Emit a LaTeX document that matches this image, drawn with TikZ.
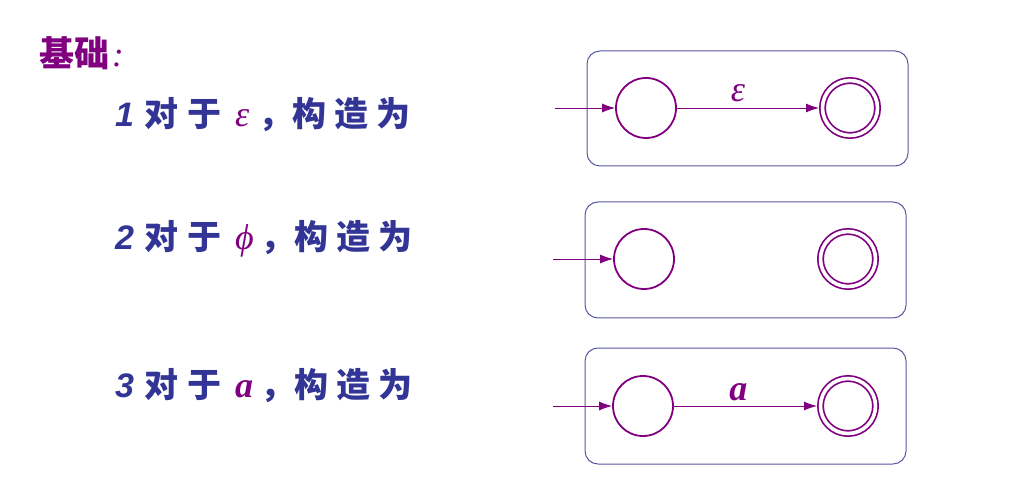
\documentclass[tikz,border=0pt]{standalone}
\usepackage{fontspec}
\setmainfont{Liberation Serif}
\setsansfont{Liberation Sans}
\newfontfamily\cjk{Noto Sans CJK SC}
\usetikzlibrary{arrows.meta}
\definecolor{tblue}{RGB}{50,52,150}
\definecolor{tpurp}{RGB}{128,0,128}
\definecolor{boxc}{RGB}{88,88,160}
\newcommand{\dg}[1]{{\sffamily\bfseries\itshape\fontsize{34}{34}\selectfont #1}}
\newcommand{\ch}[1]{{\cjk\bfseries #1}}
\newcommand{\gk}[1]{{\color{tpurp}#1}}
\begin{document}
\begin{tikzpicture}[x=1pt,y=-1pt,
  frame/.style={draw=boxc, line width=1pt, rounded corners=13pt},
  state/.style={circle, draw=tpurp, line width=1.8pt, minimum size=60pt, inner sep=0pt},
  accept/.style={circle, draw=tpurp, line width=1.7pt, double=white, double distance=3.6pt, minimum size=55pt, inner sep=0pt, outer sep=3.5pt},
  edge/.style={draw=tpurp, line width=0.9pt, -{Latex[length=13pt,width=9pt]}},
  line/.style={anchor=base west, text=tblue, inner sep=0pt, font=\fontsize{34}{34}\selectfont},
  elab/.style={text=tpurp, inner sep=0pt}]
\useasboundingbox (0,0) rectangle (1022,502);
\fill[white] (0,0) rectangle (1022,502);

% left texts
\node[anchor=base west, text=tpurp, inner sep=0pt, font=\fontsize{35}{35}\selectfont] (title) at (39,67) {\ch{基础}\hspace{3pt}\textit{:}};
\node[line] (t1) at (115,127) {\dg{1}\hspace{10pt}\ch{对}\hspace{9pt}\ch{于}\hspace{14pt}\gk{\fontsize{36}{36}\selectfont\textit{ε}}\hspace{9pt}\ch{，}\ch{构}\hspace{8pt}\ch{造}\hspace{8pt}\ch{为}};
\node[line] (t2) at (115,250) {\dg{2}\hspace{10pt}\ch{对}\hspace{9pt}\ch{于}\hspace{14pt}\gk{\fontsize{36}{36}\selectfont\textit{ϕ}}\hspace{7pt}\ch{，}\ch{构}\hspace{8pt}\ch{造}\hspace{8pt}\ch{为}};
\node[line] (t3) at (115,397) {\dg{3}\hspace{10pt}\ch{对}\hspace{9pt}\ch{于}\hspace{14pt}\gk{\fontsize{36}{36}\selectfont\textbf{\textit{a}}}\hspace{7pt}\ch{，}\ch{构}\hspace{8pt}\ch{造}\hspace{8pt}\ch{为}};

% box 1
\draw[frame] (587,51) rectangle (908,166);
\node[state] (s1) at (646,108) {};
\node[accept] (f1) at (850,108) {};
\coordinate (i1) at (555,108);
\draw[edge] (i1) -- (s1);
\draw[edge] (s1) -- node[elab, above=6pt, pos=0.43, font=\fontsize{36}{36}\selectfont\itshape] (e1) {ε} (f1);

% box 2
\draw[frame] (585,202) rectangle (906,318);
\node[state] (s2) at (644,259) {};
\node[accept] (f2) at (848,259) {};
\coordinate (i2) at (553,259);
\draw[edge] (i2) -- (s2);

% box 3
\draw[frame] (585,348) rectangle (906,464);
\node[state] (s3) at (643,406) {};
\node[accept] (f3) at (848,406) {};
\coordinate (i3) at (553,406);
\draw[edge] (i3) -- (s3);
\draw[edge] (s3) -- node[elab, above=5pt, pos=0.45, font=\fontsize{36}{36}\selectfont\bfseries\itshape] (e3) {a} (f3);
\end{tikzpicture}
\end{document}
